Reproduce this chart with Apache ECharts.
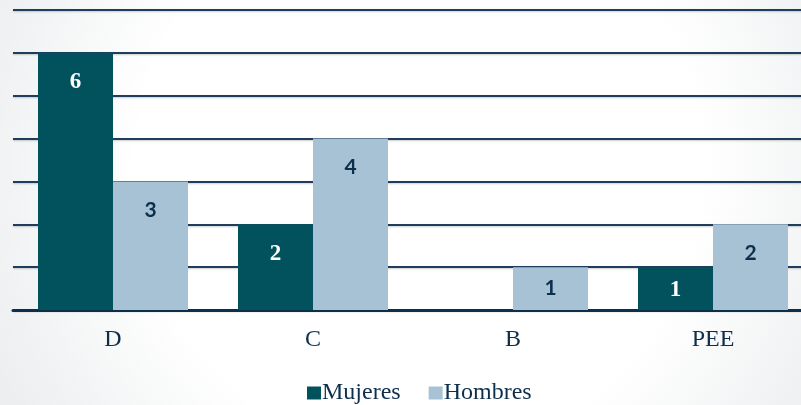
<!DOCTYPE html>
<html><head><meta charset="utf-8">
<script src="https://cdn.jsdelivr.net/npm/echarts@6/dist/echarts.min.js"></script>
<style>html,body{margin:0;padding:0;overflow:hidden;width:801px;height:405px;}#c{width:813px;height:405px;}</style>
</head><body><div id="c"></div>
<script>
const categories = ['D', 'C', 'B', 'PEE'];
const mujeres = [6, 2, 0, 1];
const hombres = [3, 4, 1, 2];
const seriesNames = ['Mujeres', 'Hombres'];

const chart = echarts.init(document.getElementById('c'));
function toData(arr) {
  return arr.map(v => v === 0 ? { value: 0, label: { show: false } } :
    { value: v, label: { distance: v === 1 ? 11 : 18 } });
}
chart.setOption({
  animation: false,
  backgroundColor: {
    type: 'radial', x: 420, y: 170, r: 470, global: true,
    colorStops: [{ offset: 0, color: '#ffffff' }, { offset: 0.6, color: '#ffffff' }, { offset: 1, color: '#eceeef' }]
  },
  grid: { left: 13, top: 10, right: 0, height: 300, containLabel: false },
  legend: {
    top: 376, left: 302,
    itemWidth: 14, itemHeight: 13, itemGap: 28, icon: 'rect',
    textStyle: { fontFamily: 'Liberation Serif', fontSize: 24, color: '#0d2f4b', padding: [0, 0, 0, -4] },
    data: seriesNames
  },
  xAxis: {
    type: 'category', data: categories,
    axisLine: { lineStyle: { color: '#0c2f4b', width: 3 } },
    axisTick: { show: false },
    axisLabel: { fontFamily: 'Liberation Serif', fontSize: 24, color: '#0d2f4b', margin: 18 }
  },
  yAxis: {
    type: 'value', min: 0, max: 7, interval: 1,
    axisLabel: { show: false }, axisLine: { show: false }, axisTick: { show: false },
    splitLine: { lineStyle: { color: '#1f3d5c', width: 2, shadowColor: 'rgba(0,0,0,0.2)', shadowBlur: 2, shadowOffsetY: 1 } }
  },
  series: [
    {
      name: seriesNames[0], type: 'bar', data: toData(mujeres), barWidth: 75, barGap: '0%',
      itemStyle: { color: '#02525e' },
      label: { show: true, position: 'insideTop', color: '#ffffff', fontFamily: 'Liberation Serif', fontWeight: 'bold', fontSize: 23 }
    },
    {
      name: seriesNames[1], type: 'bar', data: toData(hombres), barWidth: 75, barGap: '0%',
      itemStyle: { color: '#a7c2d4' },
      label: { show: true, position: 'insideTop', color: '#0d2f4b', fontFamily: 'Lato', fontWeight: 'bold', fontSize: 21 }
    }
  ]
});
</script></body></html>
